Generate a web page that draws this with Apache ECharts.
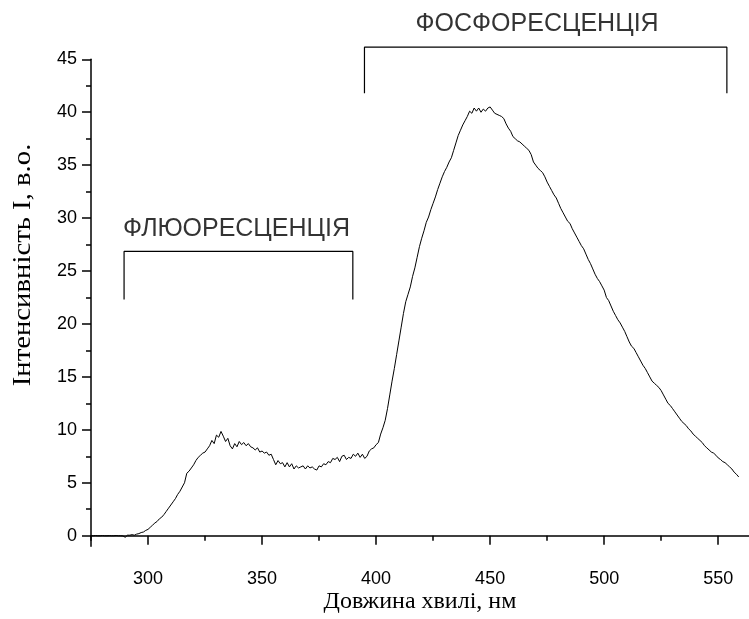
<!DOCTYPE html>
<html>
<head>
<meta charset="utf-8">
<script src="https://cdn.jsdelivr.net/npm/echarts@6/dist/echarts.min.js"></script>
<style>
html,body{margin:0;padding:0;background:#fff;}
#chart{width:749px;height:619px;}
</style>
</head>
<body>
<div id="chart"></div>
<script>
// Wavelength start (nm); values sampled every 1 nm
const startNm = 275;
const intensity = [
  0.0, 0.0, 0.02, 0.0, 0.0, 0.02, 0.0, 0.0, 0.01, 0.0, 0.0, 0.02, 0.0, 0.0, -0.02,
  -0.15, 0.05, 0.05, 0.1, 0.05, 0.15, 0.2, 0.3, 0.35, 0.5,
  0.6, 0.8, 1.0, 1.2, 1.35, 1.6, 1.75, 2.0, 2.3, 2.6,
  2.9, 3.2, 3.5, 3.9, 4.2, 4.6, 5.0, 5.9, 6.1, 6.4,
  6.7, 7.1, 7.4, 7.6, 7.8, 7.9, 8.2, 8.5, 9.0, 8.7,
  9.5, 9.3, 9.85, 9.4, 8.9, 9.2, 8.5, 8.2, 8.7, 8.4,
  8.9, 8.6, 8.8, 8.5, 8.7, 8.4, 8.3, 8.1, 8.3, 7.9,
  8.0, 7.8, 7.9, 7.6, 7.7, 7.2, 6.7, 7.1, 6.8, 6.9,
  6.5, 6.9, 6.5, 6.8, 6.3, 6.6, 6.4, 6.5, 6.6, 6.3,
  6.6, 6.4, 6.5, 6.3, 6.2, 6.6, 6.5, 6.8, 6.7, 7.0,
  6.9, 7.3, 7.2, 7.4, 7.0, 7.5, 7.6, 7.2, 7.4, 7.3,
  7.7, 7.5, 7.8, 7.4, 7.7, 7.3, 7.5, 8.0, 8.2, 8.3,
  8.6, 8.8, 9.6, 10.2, 10.9, 12.0, 13.3, 14.6, 15.8, 17.1,
  18.4, 19.7, 21.0, 22.1, 22.8, 23.5, 24.5, 25.3, 26.3, 27.3,
  28.1, 28.8, 29.6, 30.1, 30.8, 31.4, 32.0, 32.7, 33.3, 33.9,
  34.4, 34.8, 35.3, 35.7, 36.4, 37.1, 37.8, 38.3, 38.8, 39.2,
  39.6, 40.1, 39.9, 40.4, 40.1, 40.4, 40.0, 40.3, 40.1, 40.4,
  40.5, 40.2, 39.9, 39.8, 39.7, 39.6, 39.4, 38.9, 38.5, 38.2,
  37.7, 37.5, 37.3, 37.2, 37.0, 36.8, 36.6, 36.4, 36.0, 35.3,
  35.0, 34.7, 34.5, 34.3, 33.9, 33.4, 33.0, 32.6, 32.2, 31.9,
  31.4, 30.9, 30.5, 30.1, 29.7, 29.5, 29.0, 28.6, 28.2, 27.8,
  27.4, 27.1, 26.6, 26.1, 25.7, 25.2, 24.7, 24.3, 24.0, 23.6,
  23.2, 22.5, 22.2, 21.7, 21.2, 20.8, 20.4, 20.1, 19.7, 19.3,
  18.8, 18.3, 17.9, 17.7, 17.3, 16.9, 16.5, 16.1, 15.8, 15.4,
  15.0, 14.6, 14.4, 14.2, 14.0, 13.7, 13.3, 12.9, 12.5, 12.3,
  12.0, 11.7, 11.4, 11.1, 10.8, 10.6, 10.4, 10.1, 9.9, 9.6,
  9.4, 9.2, 9.0, 8.8, 8.5, 8.3, 8.1, 7.9, 7.8, 7.6,
  7.35, 7.2, 7.0, 6.9, 6.7, 6.5, 6.3, 6.0, 5.8, 5.55
];
const xMajorTicks = [300, 350, 400, 450, 500, 550];
const xMinorTicks = [275, 325, 375, 425, 475, 525];
const yMajorTicks = [0, 5, 10, 15, 20, 25, 30, 35, 40, 45];
const yMinorTicks = [2.5, 7.5, 12.5, 17.5, 22.5, 27.5, 32.5, 37.5, 42.5];
const fluoBracket = [[289.5, 22.3], [289.5, 26.85], [389.8, 26.85], [389.8, 22.3]];
const phosBracket = [[394.9, 41.8], [394.9, 46.15], [553.8, 46.15], [553.8, 41.8]];
const labelNames = ['ФЛЮОРЕСЦЕНЦІЯ', 'ФОСФОРЕСЦЕНЦІЯ'];
const labelPoints = [[338.8, 28.97], [470.6, 48.3]];
const xTitle = 'Довжина хвилі, нм';
const yTitle = 'Інтенсивність I, в.о.';

const curve = intensity.map((v, i) => [startNm + i, v]);
const labelData = labelPoints.map((p, i) => ({ value: p, name: labelNames[i] }));

const chart = echarts.init(document.getElementById('chart'));
const black = '#000';
const sans = 'Liberation Sans, Arial, sans-serif';
const serif = 'Liberation Serif, Times New Roman, serif';
const xCommon = { type: 'value', min: 275, max: 563.5, gridIndex: 0, position: 'bottom', splitLine: { show: false } };
const yCommon = { type: 'value', min: -1, max: 45, gridIndex: 0, position: 'left', splitLine: { show: false } };

chart.setOption({
  animation: false,
  backgroundColor: '#fff',
  grid: { left: 91, top: 59.3, width: 658, height: 487, containLabel: false },
  xAxis: [
    Object.assign({}, xCommon, {
      axisLine: { show: true, lineStyle: { color: black, width: 1.5 } },
      axisTick: { show: true, inside: false, length: 9, customValues: xMajorTicks, lineStyle: { color: black, width: 1.5 } },
      axisLabel: { show: true, customValues: xMajorTicks, margin: 24, color: black, fontFamily: sans, fontSize: 18 }
    }),
    Object.assign({}, xCommon, {
      axisLine: { show: false },
      axisTick: { show: true, inside: false, length: 5, customValues: xMinorTicks, lineStyle: { color: black, width: 1.5 } },
      axisLabel: { show: false }
    })
  ],
  yAxis: [
    Object.assign({}, yCommon, {
      axisLine: { show: true, lineStyle: { color: black, width: 1.5 } },
      axisTick: { show: true, inside: false, length: 9, customValues: yMajorTicks, lineStyle: { color: black, width: 1.5 } },
      axisLabel: { show: true, customValues: yMajorTicks, margin: 14, color: black, fontFamily: sans, fontSize: 18 }
    }),
    Object.assign({}, yCommon, {
      axisLine: { show: false },
      axisTick: { show: true, inside: false, length: 5, customValues: yMinorTicks, lineStyle: { color: black, width: 1.5 } },
      axisLabel: { show: false }
    })
  ],
  graphic: [
    {
      type: 'text', x: 23, y: 265, rotation: Math.PI / 2, scaleX: 1.15,
      style: { text: yTitle, font: '25px ' + serif, fill: black, align: 'center', verticalAlign: 'middle' }
    },
    {
      type: 'text', x: 420, y: 602,
      style: { text: xTitle, font: '24px ' + serif, fill: black, align: 'center', verticalAlign: 'middle' }
    }
  ],
  series: [
    {
      type: 'line', data: curve, xAxisIndex: 0, yAxisIndex: 0,
      showSymbol: false, symbol: 'none', lineStyle: { color: black, width: 1 }, silent: true
    },
    {
      type: 'line', data: fluoBracket, clip: false, showSymbol: false, symbol: 'none',
      lineStyle: { color: black, width: 1.2 }, silent: true
    },
    {
      type: 'line', data: phosBracket, clip: false, showSymbol: false, symbol: 'none',
      lineStyle: { color: black, width: 1.2 }, silent: true
    },
    {
      type: 'scatter', data: labelData, clip: false, symbolSize: 1,
      itemStyle: { color: 'rgba(0,0,0,0)' }, silent: true,
      label: { show: true, position: 'inside', formatter: '{b}', color: black, fontFamily: sans, fontSize: 25 }
    }
  ]
});
</script>
</body>
</html>
